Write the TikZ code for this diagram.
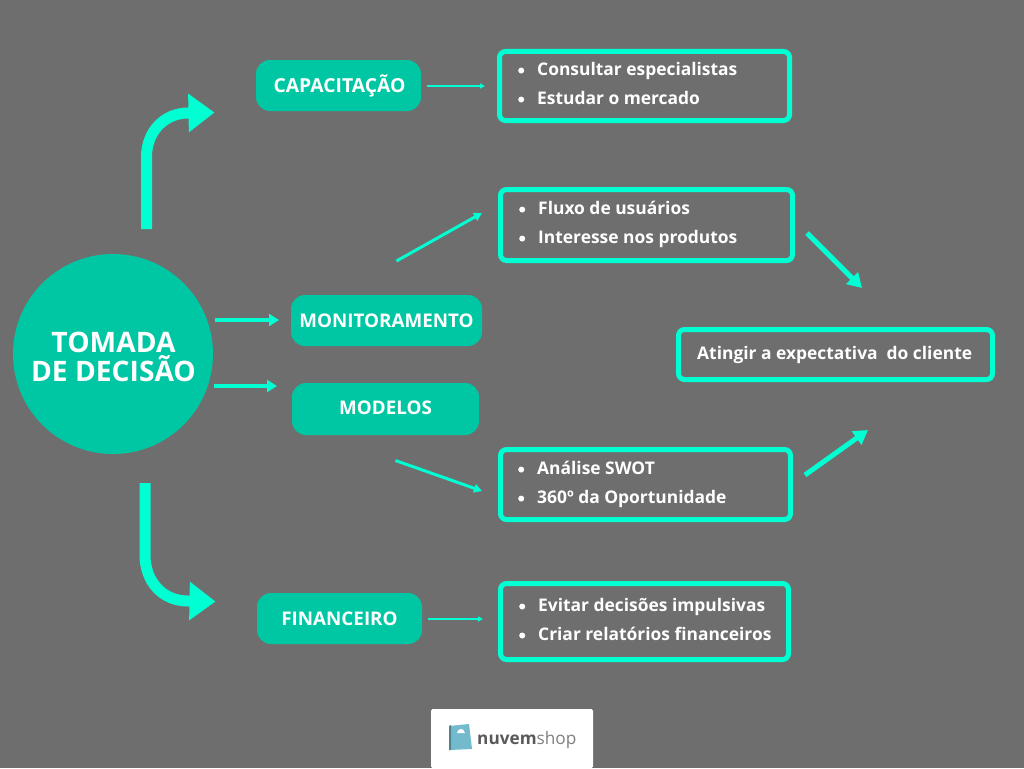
\documentclass[tikz,border=0pt]{standalone}
\usepackage{fontspec}
\setmainfont{Open Sans}
\usetikzlibrary{arrows.meta}
\definecolor{bgc}{HTML}{6E6E6E}
\definecolor{teal1}{HTML}{00C7A3}
\definecolor{neon}{HTML}{00FFD2}
\definecolor{bagc}{HTML}{74BACD}
\newcommand{\itemline}[1]{\makebox[19pt][l]{\raisebox{2pt}{\tikz\fill[white] circle (3pt);}}#1}
\tikzset{
 x=1pt,y=-1pt,
 pill/.style={fill=teal1,rounded corners=14pt,inner sep=0pt,text=white,font=\fontsize{18.8}{20}\selectfont\bfseries},
 listbox/.style={draw=neon,line width=5pt,rounded corners=6pt,inner sep=0pt,outer sep=0pt,anchor=north west},
 listtext/.style={inner sep=0pt,text=white,font=\fontsize{17.4}{29}\selectfont\bfseries,align=left,anchor=west},
 bigarrow/.style={draw=neon,line width=11pt,-{Triangle[length=26pt,width=37pt]}},
 medarrow/.style={draw=neon,line width=3.8pt,-{Triangle[length=10pt,width=12pt]}},
 thickarrow/.style={draw=neon,line width=5pt,-{Triangle[length=14pt,width=16pt]}},
 slimarrow/.style={draw=neon,line width=3pt,-{Triangle[length=8pt,width=8.5pt]}},
 thinarrow/.style={draw=neon,line width=1.4pt,-{Triangle[length=5pt,width=5pt]}},
}
\begin{document}
\begin{tikzpicture}
\useasboundingbox (0,0) rectangle (1024,768);
\fill[bgc] (0,0) rectangle (1024,768);

\node[circle,fill=teal1,minimum size=200pt,inner sep=0pt] (main) at (113,354) {};
\node[inner sep=0pt,text=white,align=center,font=\fontsize{28.2}{29}\selectfont\bfseries] (maintext) at (113.5,356.5) {TOMADA\\DE DECISÃO};

\node[pill,minimum width=165pt,minimum height=51pt] (cap) at (338.5,85.5) {\hspace*{2pt}\fontsize{19.3}{20}\selectfont CAPACITAÇÃO};
\node[pill,minimum width=191pt,minimum height=51pt] (mon) at (386.5,320.5) {MONITORAMENTO};
\node[pill,minimum width=187pt,minimum height=52pt] (mod) at (385.5,409) {\raisebox{2pt}{MODELOS}};
\node[pill,minimum width=165pt,minimum height=51pt] (fin) at (339.5,618.5) {\raisebox{-1pt}{FINANCEIRO}};

\node[listbox,minimum width=290pt,minimum height=69pt] (b1) at (499.5,51.5) {};
\node[listtext] (t1) at (518,83.5) {\itemline{Consultar especialistas}\\\itemline{Estudar o mercado}};
\node[listbox,minimum width=292pt,minimum height=71pt] (b2) at (500.5,189.5) {};
\node[listtext] (t2) at (519,224.5) {\itemline{Fluxo de usuários}\\\itemline{Interesse nos produtos}};
\node[listbox,minimum width=290pt,minimum height=70pt] (b3) at (500.5,449.5) {};
\node[listtext] (t3) at (518,484.5) {\itemline{Análise SWOT}\\\itemline{360º da Oportunidade}};
\node[listbox,minimum width=288pt,minimum height=76pt] (b4) at (500.5,583.5) {};
\node[listtext] (t4) at (519,619.5) {\itemline{Evitar decisões impulsivas}\\\itemline{Criar relatórios financeiros}};
\node[listbox,minimum width=314pt,minimum height=50pt] (goal) at (678.5,329.5) {};
\node[listtext] (t5) at (697,354.5) {Atingir a expectativa\ \ do cliente};

% free ends of connectors
\coordinate (a1s) at (146.5,229); \coordinate (a1m) at (188,113); \coordinate (a1e) at (214.5,112.5);
\coordinate (a2s) at (145,483); \coordinate (a2m) at (188,601); \coordinate (a2e) at (215.5,601.5);
\coordinate (a3s) at (215,320); \coordinate (a3e) at (279,320);
\coordinate (a4s) at (214,386); \coordinate (a4e) at (277,386);
\coordinate (a5s) at (427,86); \coordinate (a5e) at (485,86);
\coordinate (a6s) at (428,619); \coordinate (a6e) at (483,619);
\coordinate (a7s) at (396.5,261); \coordinate (a7e) at (482,213);
\coordinate (a8s) at (395.5,460.5); \coordinate (a8e) at (482,491);
\coordinate (a9s) at (807,233); \coordinate (a9e) at (862,288);
\coordinate (a10s) at (805,475); \coordinate (a10e) at (868,430);

\draw[bigarrow] (a1s) -- (146.5,157) .. controls (146.5,131) and (165,113) .. (a1m) -- (a1e);
\draw[bigarrow] (a2s) -- (145,555) .. controls (145,581) and (162,601) .. (a2m) -- (a2e);
\draw[medarrow] (a3s) -- (a3e);
\draw[medarrow] (a4s) -- (a4e);
\draw[thinarrow] (a5s) -- (a5e);
\draw[thinarrow] (a6s) -- (a6e);
\draw[slimarrow] (a7s) -- (a7e);
\draw[slimarrow] (a8s) -- (a8e);
\draw[thickarrow] (a9s) -- (a9e);
\draw[thickarrow] (a10s) -- (a10e);

% logo
\fill[white,rounded corners=1.5pt] (431,709) rectangle (593,768);
\fill[bagc] (449,726) -- (469,724) -- (472,749) -- (449,750) -- cycle;
\fill[bagc!70!black] (449,726) -- (451,725) -- (451,750) -- (449,750) -- cycle;
\fill[white] (457,733) -- (465,733) .. controls (465,730) and (462,729) .. (461,729) .. controls (459,729) and (457,731) .. (457,733) -- cycle;
\node[anchor=base west,inner sep=0pt,text=black!65,font=\fontsize{17.2}{20}\selectfont] (logo) at (477,744.5) {\textbf{nuvem}\textcolor{black!50}{shop}};
\end{tikzpicture}
\end{document}
